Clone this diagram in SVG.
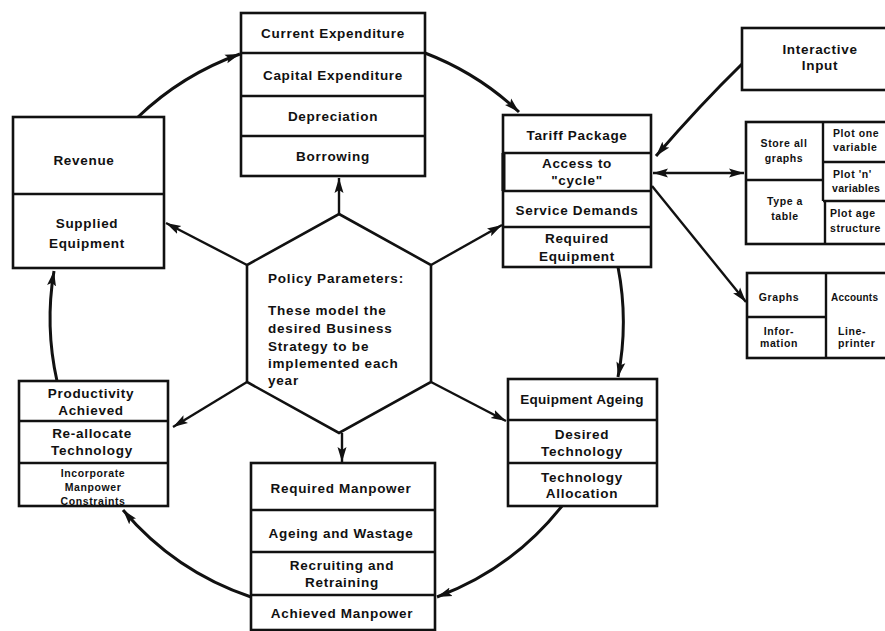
<svg xmlns="http://www.w3.org/2000/svg" width="885" height="631" viewBox="0 0 885 631">
  <defs>
    <marker id="arrow" markerUnits="userSpaceOnUse" markerWidth="16" markerHeight="10" refX="15" refY="5" orient="auto">
      <path d="M0,0.5 L15,5 L0,9.5 L3,5 z" fill="#111"/>
    </marker>
    <marker id="arrowStart" markerUnits="userSpaceOnUse" markerWidth="16" markerHeight="10" refX="1" refY="5" orient="auto">
      <path d="M16,0.5 L1,5 L16,9.5 L13,5 z" fill="#111"/>
    </marker>
    <style>
      .box { fill: #fff; stroke: #111; stroke-width: 2.6; }
      .div { stroke: #111; stroke-width: 2.4; fill: none; }
      .conn { fill: none; stroke: #111; stroke-width: 3; }
      .thin { fill: none; stroke: #111; stroke-width: 2.4; }
      text { font-family: "Liberation Sans", Arial, sans-serif; font-weight: bold; fill: #111; }
      .t { font-size: 13.5px; letter-spacing: 0.7px; text-anchor: middle; dominant-baseline: central; }
      .s { font-size: 10.5px; letter-spacing: 0.6px; text-anchor: middle; dominant-baseline: central; }
      .sl { font-size: 10.5px; letter-spacing: 0.6px; text-anchor: start; dominant-baseline: central; }
      .h { font-size: 13.5px; letter-spacing: 0.8px; }
    </style>
  </defs>
  <rect width="885" height="631" fill="#fff"/>

  <!-- cycle connectors around the policy hexagon -->
  <g id="connectors">
    <path class="conn" d="M138,117 A287,287 0 0 1 240,54" marker-end="url(#arrow)"/>
    <path class="conn" d="M425,53 A287,287 0 0 1 519,112" marker-end="url(#arrow)"/>
    <path class="conn" d="M618,267 A287,287 0 0 1 618,377" marker-end="url(#arrow)"/>
    <path class="conn" d="M562,506 A287,287 0 0 1 437,597" marker-end="url(#arrow)"/>
    <path class="conn" d="M251,597 A287,287 0 0 1 123,510" marker-end="url(#arrow)"/>
    <path class="conn" d="M57,381 A287,287 0 0 1 54,271" marker-end="url(#arrow)"/>

    <!-- spokes from the hexagon -->
    <line class="thin" x1="339" y1="214" x2="339" y2="178" marker-end="url(#arrow)"/>
    <line class="thin" x1="247" y1="265" x2="166" y2="223" marker-end="url(#arrow)"/>
    <line class="thin" x1="431" y1="265" x2="502" y2="225" marker-end="url(#arrow)"/>
    <line class="thin" x1="247" y1="382" x2="173" y2="427" marker-end="url(#arrow)"/>
    <line class="thin" x1="431" y1="382" x2="506" y2="421" marker-end="url(#arrow)"/>
    <line class="thin" x1="342" y1="433" x2="342" y2="462" marker-end="url(#arrow)"/>

    <!-- interactive side -->
    <path class="conn" d="M742,64 Q700,105 656,156" marker-end="url(#arrow)"/>
    <line class="thin" x1="653" y1="173" x2="744" y2="173" marker-start="url(#arrowStart)" marker-end="url(#arrow)"/>
    <line class="thin" x1="652" y1="186" x2="746" y2="302" marker-end="url(#arrow)"/>
  </g>

  <!-- policy hexagon -->
  <g id="policy">
    <polygon class="box" points="339,214 431,265 431,382 339,433 247,382 247,265"/>
    <text class="h" x="268" y="283">Policy Parameters:</text>
    <text class="h" x="268" y="315">These model the</text>
    <text class="h" x="268" y="333">desired Business</text>
    <text class="h" x="268" y="351">Strategy to be</text>
    <text class="h" x="268" y="368">implemented each</text>
    <text class="h" x="268" y="385">year</text>
  </g>

  <!-- expenditure -->
  <g id="expenditure">
    <rect class="box" x="241" y="13" width="184" height="163"/>
    <line class="div" x1="241" y1="53" x2="425" y2="53"/>
    <line class="div" x1="241" y1="96" x2="425" y2="96"/>
    <line class="div" x1="241" y1="136" x2="425" y2="136"/>
    <text class="t" x="333" y="33">Current Expenditure</text>
    <text class="t" x="333" y="75">Capital Expenditure</text>
    <text class="t" x="333" y="116">Depreciation</text>
    <text class="t" x="333" y="156">Borrowing</text>
  </g>

  <!-- tariff -->
  <g id="tariff">
    <rect class="box" x="503" y="115" width="148" height="152"/>
    <line class="div" x1="503" y1="153" x2="651" y2="153"/>
    <line class="div" x1="503" y1="191" x2="651" y2="191"/>
    <line class="div" x1="503" y1="227" x2="651" y2="227"/>
    <line x1="503.5" y1="153" x2="503.5" y2="191" stroke="#111" stroke-width="4"/>
    <text class="t" x="577" y="135">Tariff Package</text>
    <text class="t" x="577" y="163">Access to</text>
    <text class="t" x="577" y="180">"cycle"</text>
    <text class="t" x="577" y="210">Service Demands</text>
    <text class="t" x="577" y="238">Required</text>
    <text class="t" x="577" y="256">Equipment</text>
  </g>

  <!-- equipment ageing -->
  <g id="equipment">
    <rect class="box" x="508" y="379" width="149" height="127"/>
    <line class="div" x1="508" y1="420" x2="657" y2="420"/>
    <line class="div" x1="508" y1="463" x2="657" y2="463"/>
    <text class="t" x="582" y="399" style="letter-spacing:0.3px">Equipment Ageing</text>
    <text class="t" x="582" y="434">Desired</text>
    <text class="t" x="582" y="451">Technology</text>
    <text class="t" x="582" y="477">Technology</text>
    <text class="t" x="582" y="493">Allocation</text>
  </g>

  <!-- manpower -->
  <g id="manpower">
    <rect class="box" x="251" y="463" width="184" height="167"/>
    <line class="div" x1="251" y1="510" x2="435" y2="510"/>
    <line class="div" x1="251" y1="552" x2="435" y2="552"/>
    <line class="div" x1="251" y1="595" x2="435" y2="595"/>
    <text class="t" x="341" y="488">Required Manpower</text>
    <text class="t" x="341" y="533">Ageing and Wastage</text>
    <text class="t" x="342" y="565">Recruiting and</text>
    <text class="t" x="342" y="582">Retraining</text>
    <text class="t" x="342" y="613">Achieved Manpower</text>
  </g>

  <!-- productivity -->
  <g id="productivity">
    <rect class="box" x="19" y="381" width="149" height="125"/>
    <line class="div" x1="19" y1="421" x2="168" y2="421"/>
    <line class="div" x1="19" y1="463" x2="168" y2="463"/>
    <text class="t" x="91" y="393">Productivity</text>
    <text class="t" x="91" y="410">Achieved</text>
    <text class="t" x="92" y="433">Re-allocate</text>
    <text class="t" x="92" y="450">Technology</text>
    <text class="s" x="93" y="473">Incorporate</text>
    <text class="s" x="93" y="487">Manpower</text>
    <text class="s" x="93" y="501">Constraints</text>
  </g>

  <!-- revenue -->
  <g id="revenue">
    <rect class="box" x="13" y="117" width="151" height="151"/>
    <line class="div" x1="13" y1="194" x2="164" y2="194"/>
    <text class="t" x="84" y="160">Revenue</text>
    <text class="t" x="87" y="223">Supplied</text>
    <text class="t" x="87" y="243">Equipment</text>
  </g>

  <!-- interactive input -->
  <g id="interactive">
    <rect class="box" x="742" y="28" width="160" height="62"/>
    <text class="t" x="820" y="49">Interactive</text>
    <text class="t" x="820" y="65">Input</text>
  </g>

  <!-- graph options -->
  <g id="graph-options">
    <rect class="box" x="746" y="122" width="160" height="122"/>
    <line class="div" x1="746" y1="180" x2="823" y2="180"/>
    <line class="div" x1="823" y1="122" x2="823" y2="201"/>
    <line class="div" x1="825" y1="201" x2="825" y2="244"/>
    <line class="div" x1="823" y1="162" x2="900" y2="162"/>
    <line class="div" x1="823" y1="201" x2="900" y2="201"/>
    <text class="s" x="784" y="143">Store all</text>
    <text class="s" x="784" y="158">graphs</text>
    <text class="s" x="785" y="201">Type a</text>
    <text class="s" x="785" y="216">table</text>
    <text class="sl" x="833" y="133">Plot one</text>
    <text class="sl" x="833" y="147">variable</text>
    <text class="sl" x="833" y="174">Plot 'n'</text>
    <text class="sl" x="832" y="188" style="letter-spacing:0.3px">variables</text>
    <text class="sl" x="830" y="213">Plot age</text>
    <text class="sl" x="830" y="228">structure</text>
  </g>

  <!-- output options -->
  <g id="output-options">
    <rect class="box" x="747" y="273" width="160" height="85"/>
    <line class="div" x1="747" y1="317" x2="826" y2="317"/>
    <line class="div" x1="826" y1="273" x2="826" y2="358"/>
    <text class="s" x="779" y="297">Graphs</text>
    <text class="sl" x="831" y="297" style="font-size:10px;letter-spacing:0.2px">Accounts</text>
    <text class="s" x="779" y="331">Infor-</text>
    <text class="s" x="779" y="343">mation</text>
    <text class="sl" x="838" y="331">Line-</text>
    <text class="sl" x="838" y="343">printer</text>
  </g>
</svg>
